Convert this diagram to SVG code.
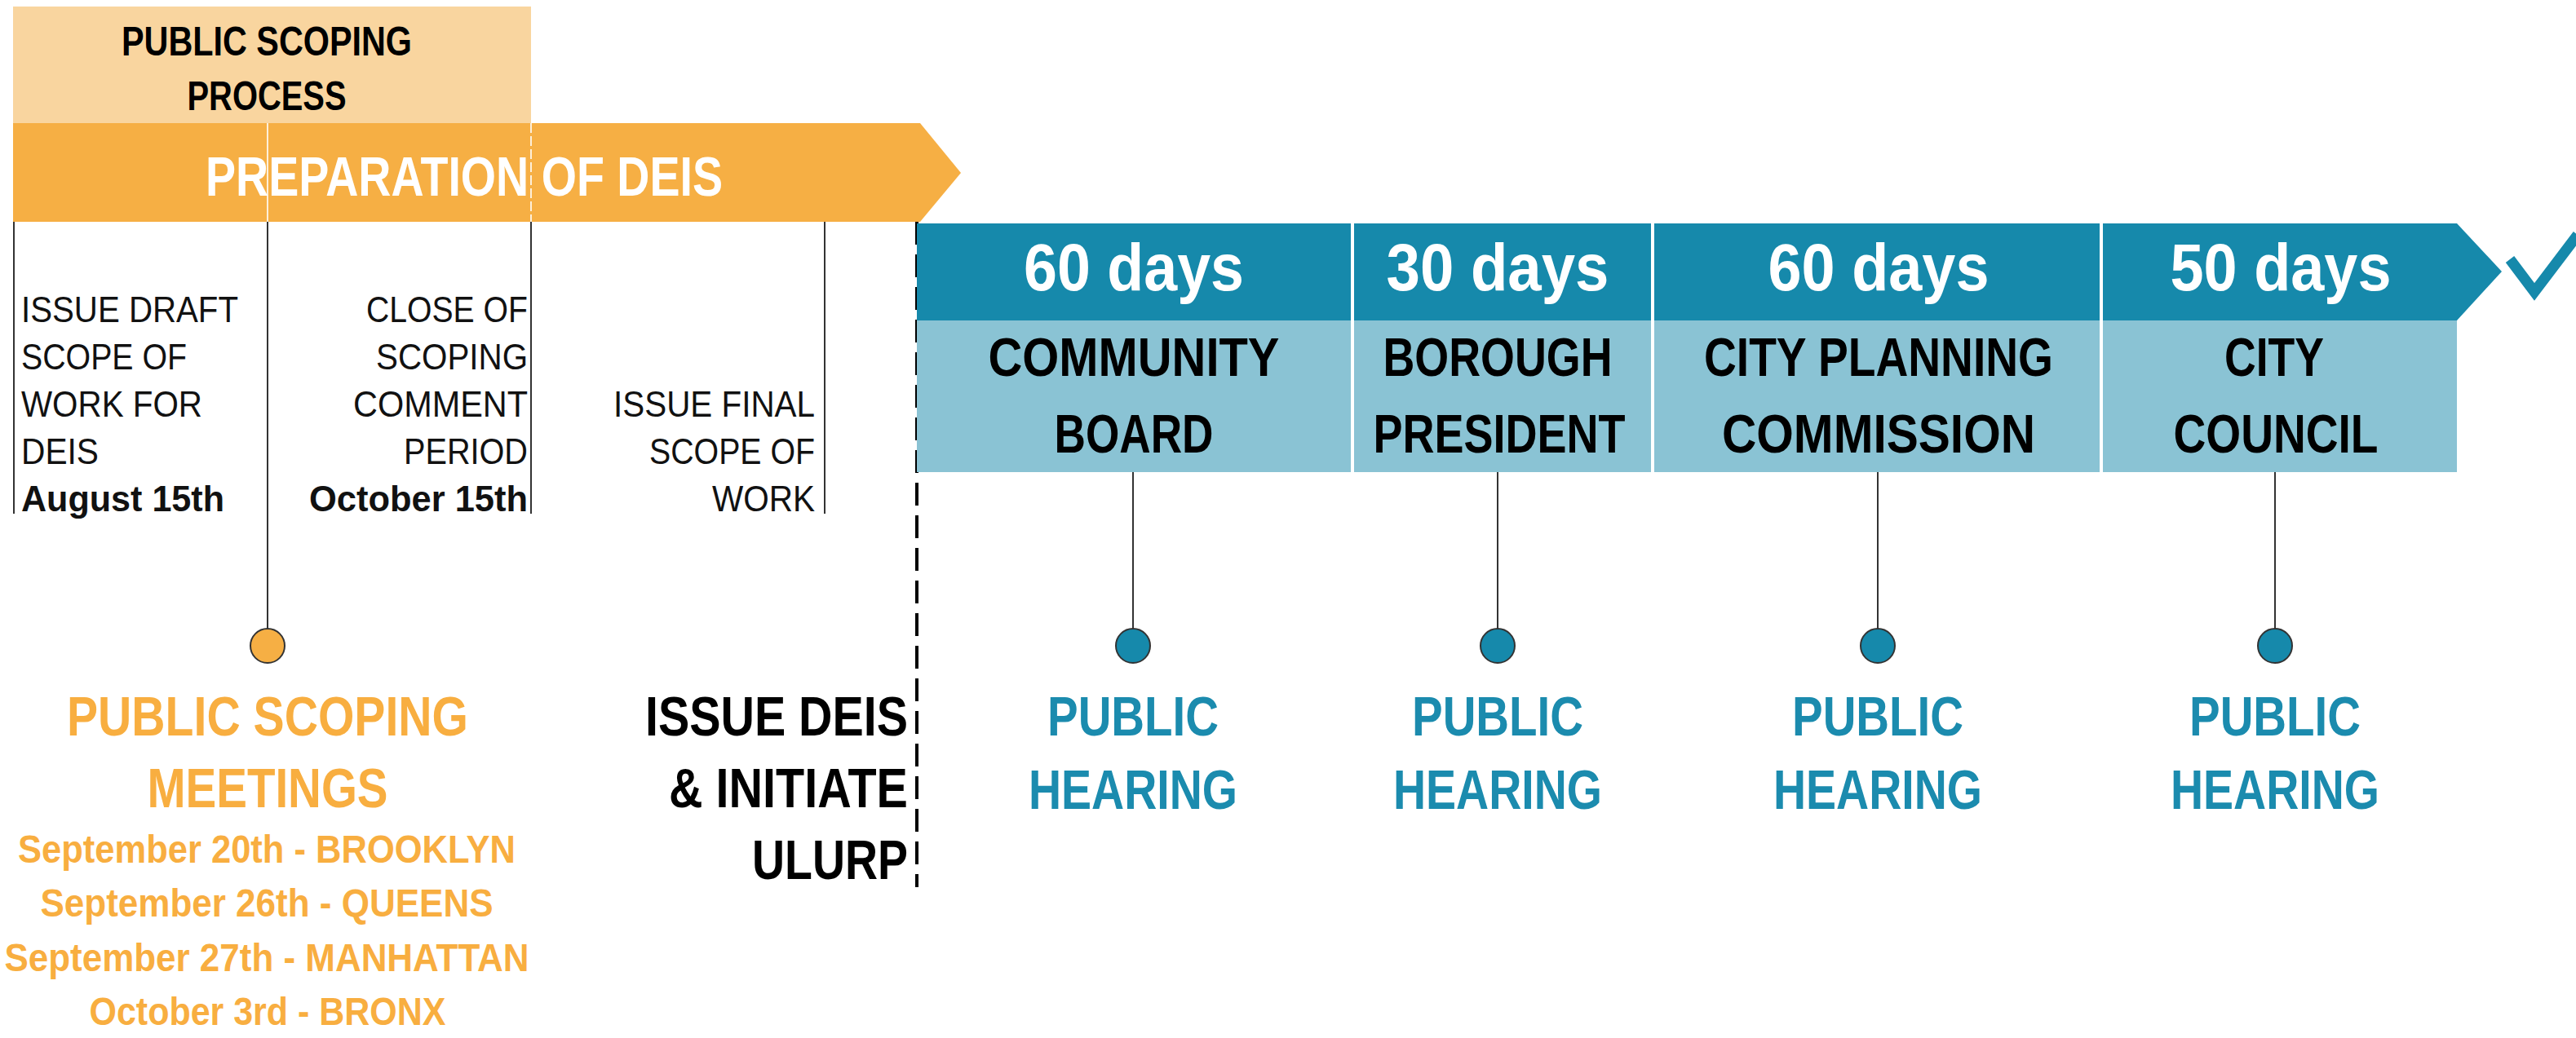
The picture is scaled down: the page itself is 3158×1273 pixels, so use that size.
<svg xmlns="http://www.w3.org/2000/svg" width="3158" height="1273" viewBox="0 0 3158 1273">
<style>
text{font-family:"Liberation Sans Narrow","Liberation Sans",Arial,sans-serif;}
.b{font-weight:bold;}
.sm{font-size:44px;fill:#111;}
.hd{font-size:50px;font-weight:bold;fill:#000;}
.prep{font-size:68px;font-weight:bold;fill:#fff;}
.og{font-size:68px;font-weight:bold;fill:#F8AE40;}
.od{font-size:48px;font-weight:bold;fill:#F8AE40;}
.bk{font-size:68px;font-weight:bold;fill:#000;}
.days{font-size:82px;font-weight:bold;fill:#fff;}
.lab{font-size:66px;font-weight:bold;fill:#000;}
.ph{font-size:68px;font-weight:bold;fill:#1B8BAE;}
.tick{stroke:#333;stroke-width:2;fill:none;}
.dot-o{fill:#F6AF44;stroke:#333;stroke-width:2;}
.dot-t{fill:#1689AB;stroke:#333;stroke-width:2;}
</style>
<rect width="3158" height="1273" fill="#fff"/>

<g id="scoping-process">
<rect x="16" y="8" width="635" height="143" fill="#F9D59F"/>
<text class="hd" x="327" y="68" text-anchor="middle" textLength="356" lengthAdjust="spacingAndGlyphs">PUBLIC SCOPING</text>
<text class="hd" x="327" y="135" text-anchor="middle" textLength="195" lengthAdjust="spacingAndGlyphs">PROCESS</text>
</g>

<g id="preparation-deis">
<polygon points="16,151 1128,151 1178,212 1128,272 16,272" fill="#F6AF44"/>
<line x1="328" y1="151" x2="328" y2="272" stroke="#fff" stroke-width="2" opacity="0.8"/>
<line x1="651" y1="151" x2="651" y2="272" stroke="#fff" stroke-width="2" stroke-dasharray="12 4" opacity="0.8"/>
<text class="prep" x="252" y="240" textLength="634" lengthAdjust="spacingAndGlyphs">PREPARATION OF DEIS</text>
</g>

<g id="connectors">
<line class="tick" x1="17" y1="272" x2="17" y2="630"/>
<line class="tick" x1="328" y1="272" x2="328" y2="771"/>
<line class="tick" x1="651" y1="272" x2="651" y2="630"/>
<line class="tick" x1="1011" y1="272" x2="1011" y2="630"/>
<line x1="1124" y1="272" x2="1124" y2="1088" stroke="#000" stroke-width="4" stroke-dasharray="28 12"/>
<line class="tick" x1="1389" y1="579" x2="1389" y2="771"/>
<line class="tick" x1="1836" y1="579" x2="1836" y2="771"/>
<line class="tick" x1="2302" y1="579" x2="2302" y2="771"/>
<line class="tick" x1="2789" y1="579" x2="2789" y2="771"/>
</g>

<g id="draft-scope">
<text class="sm" x="26" y="395" textLength="266" lengthAdjust="spacingAndGlyphs">ISSUE DRAFT</text>
<text class="sm" x="26" y="453" textLength="203" lengthAdjust="spacingAndGlyphs">SCOPE OF</text>
<text class="sm" x="26" y="511" textLength="222" lengthAdjust="spacingAndGlyphs">WORK FOR</text>
<text class="sm" x="26" y="569" textLength="95" lengthAdjust="spacingAndGlyphs">DEIS</text>
<text class="sm b" x="26" y="627" textLength="249" lengthAdjust="spacingAndGlyphs">August 15th</text>
</g>

<g id="close-scoping">
<text class="sm" x="647" y="395" text-anchor="end" textLength="198" lengthAdjust="spacingAndGlyphs">CLOSE OF</text>
<text class="sm" x="647" y="453" text-anchor="end" textLength="186" lengthAdjust="spacingAndGlyphs">SCOPING</text>
<text class="sm" x="647" y="511" text-anchor="end" textLength="214" lengthAdjust="spacingAndGlyphs">COMMENT</text>
<text class="sm" x="647" y="569" text-anchor="end" textLength="152" lengthAdjust="spacingAndGlyphs">PERIOD</text>
<text class="sm b" x="647" y="627" text-anchor="end" textLength="268" lengthAdjust="spacingAndGlyphs">October 15th</text>
</g>

<g id="final-scope">
<text class="sm" x="999" y="511" text-anchor="end" textLength="247" lengthAdjust="spacingAndGlyphs">ISSUE FINAL</text>
<text class="sm" x="999" y="569" text-anchor="end" textLength="203" lengthAdjust="spacingAndGlyphs">SCOPE OF</text>
<text class="sm" x="999" y="627" text-anchor="end" textLength="126" lengthAdjust="spacingAndGlyphs">WORK</text>
</g>

<g id="scoping-meetings">
<circle class="dot-o" cx="328" cy="792" r="21"/>
<text class="og" x="328" y="902" text-anchor="middle" textLength="492" lengthAdjust="spacingAndGlyphs">PUBLIC SCOPING</text>
<text class="og" x="328" y="990" text-anchor="middle" textLength="295" lengthAdjust="spacingAndGlyphs">MEETINGS</text>
<text class="od" x="327" y="1058" text-anchor="middle" textLength="610" lengthAdjust="spacingAndGlyphs">September 20th - BROOKLYN</text>
<text class="od" x="327" y="1124" text-anchor="middle" textLength="555" lengthAdjust="spacingAndGlyphs">September 26th - QUEENS</text>
<text class="od" x="327" y="1191" text-anchor="middle" textLength="643" lengthAdjust="spacingAndGlyphs">September 27th - MANHATTAN</text>
<text class="od" x="328" y="1257" text-anchor="middle" textLength="437" lengthAdjust="spacingAndGlyphs">October 3rd - BRONX</text>
</g>

<g id="issue-deis">
<text class="bk" x="1113" y="902" text-anchor="end" textLength="322" lengthAdjust="spacingAndGlyphs">ISSUE DEIS</text>
<text class="bk" x="1113" y="990" text-anchor="end" textLength="293" lengthAdjust="spacingAndGlyphs">&amp; INITIATE</text>
<text class="bk" x="1113" y="1078" text-anchor="end" textLength="191" lengthAdjust="spacingAndGlyphs">ULURP</text>
</g>

<g id="ulurp-bar">
<polygon points="1124,274 3012,274 3067,333 3012,393 1124,393" fill="#1689AB"/>
<rect x="1124" y="393" width="1888" height="186" fill="#8AC3D4"/>
<line x1="1658" y1="274" x2="1658" y2="579" stroke="#fff" stroke-width="4"/>
<line x1="2026" y1="274" x2="2026" y2="579" stroke="#fff" stroke-width="4"/>
<line x1="2576" y1="274" x2="2576" y2="579" stroke="#fff" stroke-width="4"/>
</g>

<g id="community-board">
<text class="days" x="1390" y="356" text-anchor="middle" textLength="270" lengthAdjust="spacingAndGlyphs">60 days</text>
<text class="lab" x="1390" y="461" text-anchor="middle" textLength="357" lengthAdjust="spacingAndGlyphs">COMMUNITY</text>
<text class="lab" x="1390" y="555" text-anchor="middle" textLength="195" lengthAdjust="spacingAndGlyphs">BOARD</text>
<circle class="dot-t" cx="1389" cy="792" r="21"/>
<text class="ph" x="1389" y="902" text-anchor="middle" textLength="210" lengthAdjust="spacingAndGlyphs">PUBLIC</text>
<text class="ph" x="1389" y="992" text-anchor="middle" textLength="256" lengthAdjust="spacingAndGlyphs">HEARING</text>
</g>

<g id="borough-president">
<text class="days" x="1836" y="356" text-anchor="middle" textLength="273" lengthAdjust="spacingAndGlyphs">30 days</text>
<text class="lab" x="1836" y="461" text-anchor="middle" textLength="281" lengthAdjust="spacingAndGlyphs">BOROUGH</text>
<text class="lab" x="1838" y="555" text-anchor="middle" textLength="309" lengthAdjust="spacingAndGlyphs">PRESIDENT</text>
<circle class="dot-t" cx="1836" cy="792" r="21"/>
<text class="ph" x="1836" y="902" text-anchor="middle" textLength="210" lengthAdjust="spacingAndGlyphs">PUBLIC</text>
<text class="ph" x="1836" y="992" text-anchor="middle" textLength="256" lengthAdjust="spacingAndGlyphs">HEARING</text>
</g>

<g id="city-planning-commission">
<text class="days" x="2303" y="356" text-anchor="middle" textLength="271" lengthAdjust="spacingAndGlyphs">60 days</text>
<text class="lab" x="2303" y="461" text-anchor="middle" textLength="428" lengthAdjust="spacingAndGlyphs">CITY PLANNING</text>
<text class="lab" x="2303" y="555" text-anchor="middle" textLength="384" lengthAdjust="spacingAndGlyphs">COMMISSION</text>
<circle class="dot-t" cx="2302" cy="792" r="21"/>
<text class="ph" x="2302" y="902" text-anchor="middle" textLength="210" lengthAdjust="spacingAndGlyphs">PUBLIC</text>
<text class="ph" x="2302" y="992" text-anchor="middle" textLength="256" lengthAdjust="spacingAndGlyphs">HEARING</text>
</g>

<g id="city-council">
<text class="days" x="2796" y="356" text-anchor="middle" textLength="271" lengthAdjust="spacingAndGlyphs">50 days</text>
<text class="lab" x="2788" y="461" text-anchor="middle" textLength="122" lengthAdjust="spacingAndGlyphs">CITY</text>
<text class="lab" x="2790" y="555" text-anchor="middle" textLength="251" lengthAdjust="spacingAndGlyphs">COUNCIL</text>
<circle class="dot-t" cx="2789" cy="792" r="21"/>
<text class="ph" x="2789" y="902" text-anchor="middle" textLength="210" lengthAdjust="spacingAndGlyphs">PUBLIC</text>
<text class="ph" x="2789" y="992" text-anchor="middle" textLength="256" lengthAdjust="spacingAndGlyphs">HEARING</text>
</g>

<g id="checkmark">
<polyline points="3077,318 3107,358 3160,288" fill="none" stroke="#1689AB" stroke-width="13" stroke-linejoin="miter"/>
</g>
</svg>
